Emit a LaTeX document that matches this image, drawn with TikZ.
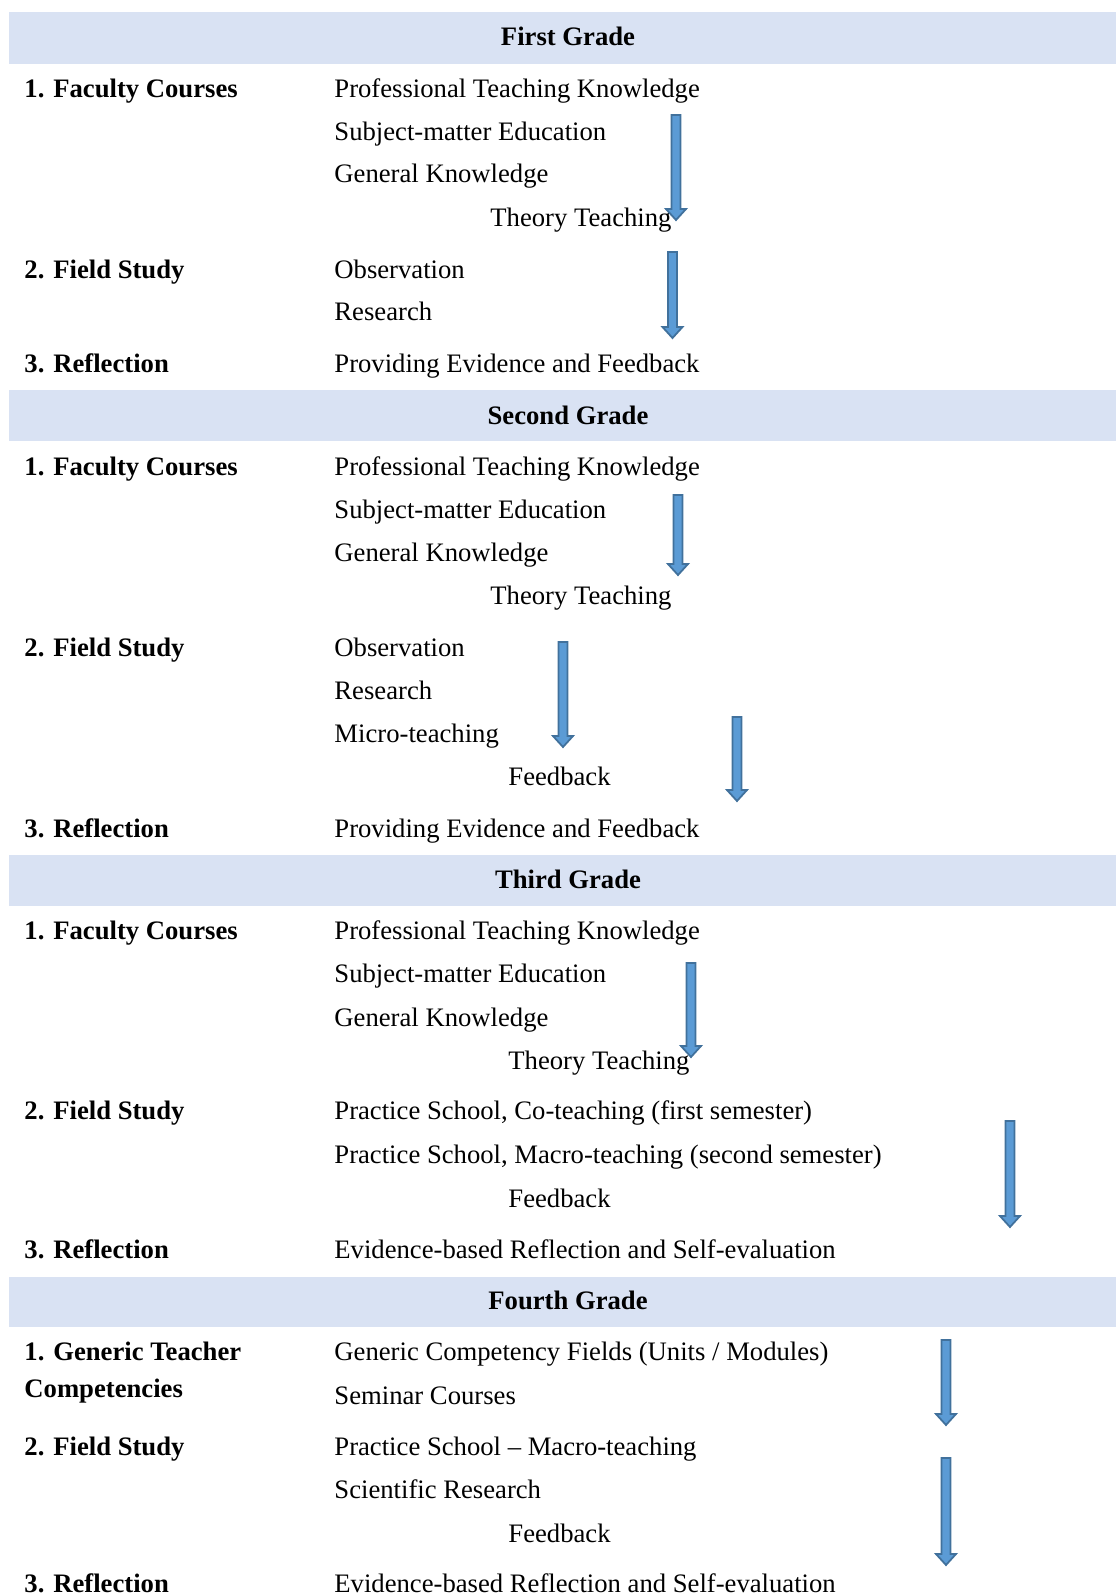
\documentclass[tikz,border=0pt]{standalone}
\usepackage{fontspec}
\setmainfont{Liberation Serif}
\usetikzlibrary{calc}
\definecolor{bandblue}{HTML}{D9E2F3}
\definecolor{arrfill}{HTML}{5B9BD5}
\definecolor{arrline}{HTML}{41719C}
\tikzset{
  lbl/.style={anchor=base west, inner sep=0pt, font=\fontsize{12}{14}\selectfont\bfseries},
  itm/.style={anchor=base west, inner sep=0pt, font=\fontsize{12}{14}\selectfont},
  hdr/.style={anchor=base, inner sep=0pt, font=\fontsize{12}{14}\selectfont\bfseries},
  bandbox/.style={fill=bandblue, draw=none},
  barrow/.style={fill=arrfill, draw=arrline, line width=0.8pt, line join=miter},
}
\newcommand\blockarrow[2]{%
  \draw[barrow] ($(#1)+(-4.5,0)$) -- ($(#2)+(-4.5,-11)$) -- ($(#2)+(-10,-11)$) -- (#2)
    -- ($(#2)+(10,-11)$) -- ($(#2)+(4.5,-11)$) -- ($(#1)+(4.5,0)$) -- cycle;}
\begin{document}
\begin{tikzpicture}[x=0.45pt,y=-0.45pt]
\useasboundingbox (0,0) rectangle (1116,1594);
\clip (0,0) rectangle (1116,1594);
% bands
\fill[bandbox] (9,12) rectangle (1116,64);
\fill[bandbox] (9,390) rectangle (1116,441);
\fill[bandbox] (9,855) rectangle (1116,906);
\fill[bandbox] (9,1277) rectangle (1116,1327);
% First grade
\node[hdr] (h1) at (568,45.5) {First Grade};
\node[lbl] (l11) at (24,97.3) {1. Faculty Courses};
\node[itm] (i11) at (334,97.3) {Professional Teaching Knowledge};
\node[itm] (i12) at (334,140) {Subject-matter Education};
\node[itm] (i13) at (334,182.7) {General Knowledge};
\node[itm] (i14) at (490,226.4) {Theory Teaching};
\node[lbl] (l12) at (24,278.2) {2. Field Study};
\node[itm] (i15) at (334,278.2) {Observation};
\node[itm] (i16) at (334,320.9) {Research};
\node[lbl] (l13) at (24,372.8) {3. Reflection};
\node[itm] (i17) at (334,372.8) {Providing Evidence and Feedback};
% Second grade
\node[hdr] (h2) at (568,424.6) {Second Grade};
\node[lbl] (l21) at (24,475.4) {1. Faculty Courses};
\node[itm] (i21) at (334,475.4) {Professional Teaching Knowledge};
\node[itm] (i22) at (334,518.1) {Subject-matter Education};
\node[itm] (i23) at (334,561.8) {General Knowledge};
\node[itm] (i24) at (490,604.5) {Theory Teaching};
\node[lbl] (l22) at (24,656.3) {2. Field Study};
\node[itm] (i25) at (334,656.3) {Observation};
\node[itm] (i26) at (334,699) {Research};
\node[itm] (i27) at (334,742.7) {Micro-teaching};
\node[itm] (i28) at (508,785.4) {Feedback};
\node[lbl] (l23) at (24,837.3) {3. Reflection};
\node[itm] (i29) at (334,837.3) {Providing Evidence and Feedback};
% Third grade
\node[hdr] (h3) at (568,888.1) {Third Grade};
\node[lbl] (l31) at (24,939.9) {1. Faculty Courses};
\node[itm] (i31) at (334,939.9) {Professional Teaching Knowledge};
\node[itm] (i32) at (334,982.6) {Subject-matter Education};
\node[itm] (i33) at (334,1026.3) {General Knowledge};
\node[itm] (i34) at (508,1069) {Theory Teaching};
\node[lbl] (l32) at (24,1119.8) {2. Field Study};
\node[itm] (i35) at (334,1119.8) {Practice School, Co-teaching (first semester)};
\node[itm] (i36) at (334,1163.5) {Practice School, Macro-teaching (second semester)};
\node[itm] (i37) at (508,1207.2) {Feedback};
\node[lbl] (l33) at (24,1258.1) {3. Reflection};
\node[itm] (i38) at (334,1258.1) {Evidence-based Reflection and Self-evaluation};
% Fourth grade
\node[hdr] (h4) at (568,1309.9) {Fourth Grade};
\node[lbl] (l41) at (24,1360.7) {1. Generic Teacher};
\node[lbl] (l41b) at (24,1397.3) {Competencies};
\node[itm] (i41) at (334,1360.7) {Generic Competency Fields (Units / Modules)};
\node[itm] (i42) at (334,1404.4) {Seminar Courses};
\node[lbl] (l42) at (24,1455.2) {2. Field Study};
\node[itm] (i43) at (334,1455.2) {Practice School -- Macro-teaching};
\node[itm] (i44) at (334,1498.9) {Scientific Research};
\node[itm] (i45) at (508,1542.6) {Feedback};
\node[lbl] (l43) at (24,1592.4) {3. Reflection};
\node[itm] (i46) at (334,1592.4) {Evidence-based Reflection and Self-evaluation};
% arrow coordinates
\coordinate (a1t) at (676,115);   \coordinate (a1b) at (676,220);
\coordinate (a2t) at (672.5,252); \coordinate (a2b) at (672.5,338);
\coordinate (a3t) at (678,495);   \coordinate (a3b) at (678,575);
\coordinate (a4t) at (563,642);   \coordinate (a4b) at (563,747);
\coordinate (a5t) at (737,717);   \coordinate (a5b) at (737,801);
\coordinate (a6t) at (691,963);   \coordinate (a6b) at (691,1057);
\coordinate (a7t) at (1010,1121); \coordinate (a7b) at (1010,1227);
\coordinate (a8t) at (946,1340);  \coordinate (a8b) at (946,1425);
\coordinate (a9t) at (946,1458);  \coordinate (a9b) at (946,1565);
\blockarrow{a1t}{a1b}
\blockarrow{a2t}{a2b}
\blockarrow{a3t}{a3b}
\blockarrow{a4t}{a4b}
\blockarrow{a5t}{a5b}
\blockarrow{a6t}{a6b}
\blockarrow{a7t}{a7b}
\blockarrow{a8t}{a8b}
\blockarrow{a9t}{a9b}
\end{tikzpicture}
\end{document}
